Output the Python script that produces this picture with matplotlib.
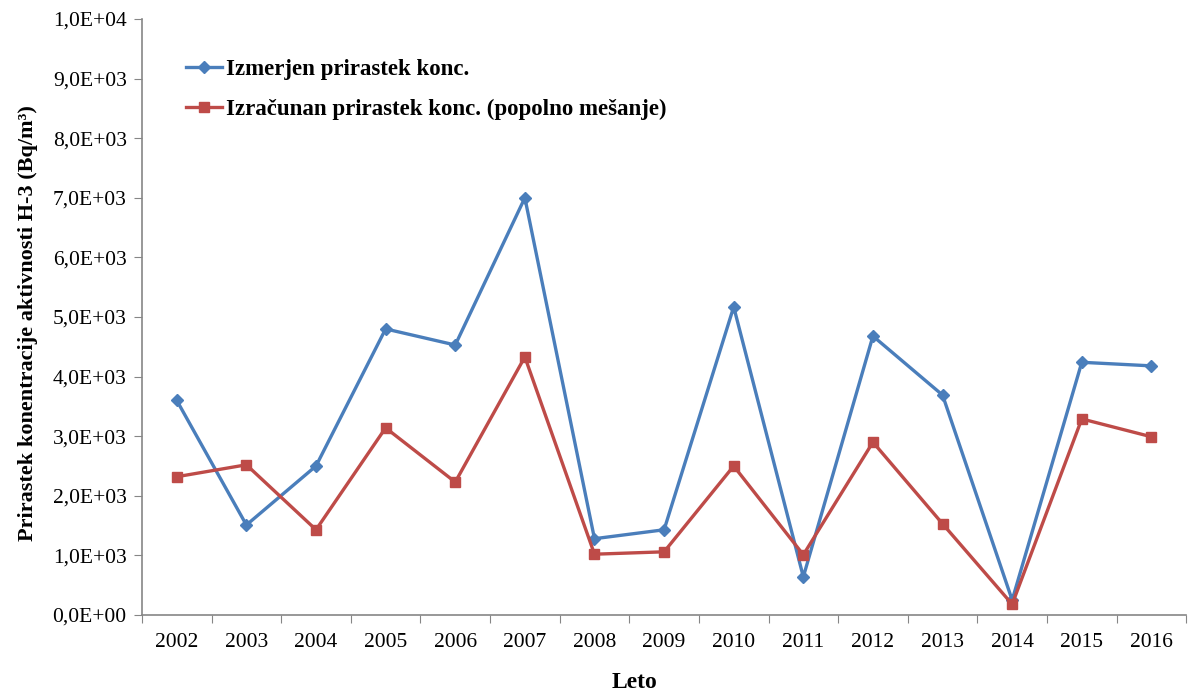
import numpy as np
import matplotlib.pyplot as plt
from matplotlib.ticker import FuncFormatter, FixedLocator

plt.rcParams['font.family'] = ['Liberation Serif', 'DejaVu Serif']

# podatki
leta = ['2002', '2003', '2004', '2005', '2006', '2007', '2008', '2009',
        '2010', '2011', '2012', '2013', '2014', '2015', '2016']
izmerjen = [3600, 1510, 2500, 4800, 4530, 7000, 1280, 1430,
            5170, 640, 4680, 3690, 250, 4240, 4180]
izracunan = [2320, 2520, 1430, 3140, 2230, 4330, 1020, 1060,
             2500, 1010, 2900, 1530, 180, 3290, 2990]

blue = '#4A7EBB'
red = '#BE4B48'

fig = plt.figure(figsize=(11.88, 6.91), dpi=100)
ax = fig.add_axes([0.1195, 0.110, 0.879, 0.8625])

x = np.arange(len(leta))
ax.plot(x, izmerjen, color=blue, lw=2.4, marker='D', ms=6.5,
        label='Izmerjen prirastek konc.')
ax.plot(x, izracunan, color=red, lw=2.4, marker='s', ms=7.5,
        label='Izračunan prirastek konc. (popolno mešanje)')

ax.set_xlim(-0.5, len(leta) - 0.5)
ax.set_ylim(0, 10000)
ax.set_yticks(np.arange(0, 10001, 1000))
ax.yaxis.set_major_formatter(FuncFormatter(
    lambda v, p: ('%.1E' % v).replace('.', ',')))

# x: crtice med kategorijami, oznake na sredini
ax.xaxis.set_major_locator(FixedLocator(np.arange(-0.5, len(leta), 1.0)))
ax.xaxis.set_minor_locator(FixedLocator(x))
ax.set_xticklabels([], minor=False)
ax.set_xticklabels(leta, minor=True)
ax.tick_params(axis='x', which='minor', length=0, pad=13, labelsize=15.5)
ax.tick_params(axis='x', which='major', length=6, color='#868686')
ax.tick_params(axis='y', length=6, color='#868686', labelsize=15.5, pad=5)

for s in ['top', 'right']:
    ax.spines[s].set_visible(False)
for s in ['left', 'bottom']:
    ax.spines[s].set_color('#868686')
    ax.spines[s].set_linewidth(1.2)

ax.set_xlabel('Leto', fontsize=17, fontweight='bold')
ax.xaxis.set_label_coords(0.472, -0.095)
ax.set_ylabel('Prirastek konentracije aktivnosti H-3 (Bq/m³)',
              fontsize=16, fontweight='bold')
ax.yaxis.set_label_coords(-0.100, 0.49)

ax.legend(loc='upper left', bbox_to_anchor=(0.022, 0.968), frameon=False,
          prop={'size': 16.5, 'weight': 'bold'}, handlelength=1.6,
          handletextpad=0.15, labelspacing=0.85)

fig.savefig('out.png', dpi=100)
